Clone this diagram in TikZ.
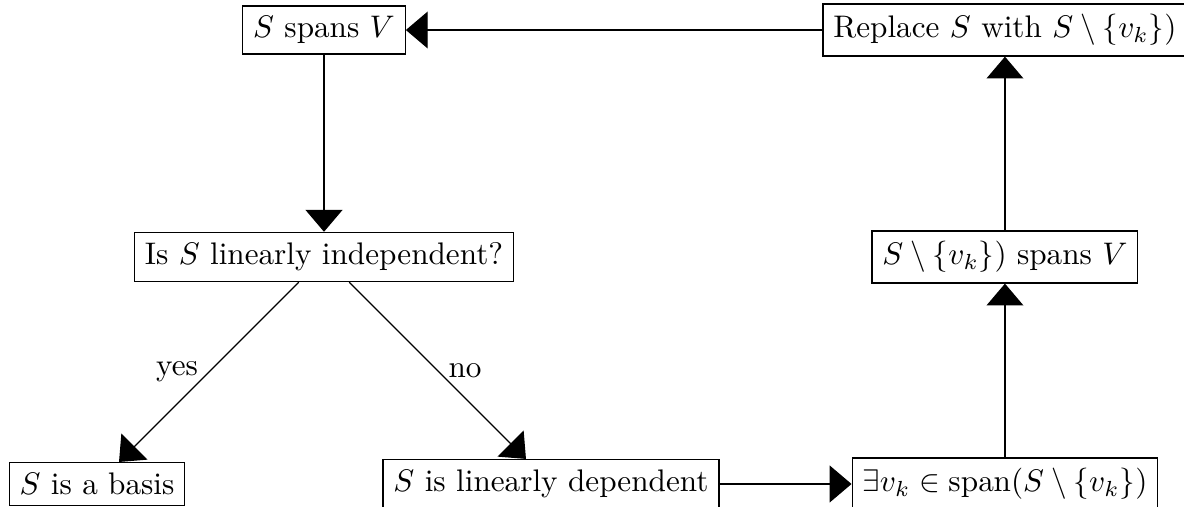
\documentclass[tikz,border=0pt]{standalone}
\usepackage{color}
\usepackage{amsmath}
\usepackage{amsfonts}
\usepackage{tikz}
\usetikzlibrary{arrows.meta}
\newcommand{\stp}[0] {2.557}

\begin{document}
\begin{tikzpicture}
        \useasboundingbox (-3.650, 0.338) rectangle (9.688, -5.373);
        \node[shape=rectangle,draw=black] (s) at (0, 0)     {$S$ spans $V$};
        \node[shape=rectangle,draw=black] (r) at (\stp*3, 0)     {Replace $S$ with $S\setminus\{v_k\})$};
        \node[shape=rectangle,draw=black] (i) at (0, -\stp)     {Is $S$ linearly independent?};
        \node[shape=rectangle,draw=black] (v) at (\stp*3, -\stp)     {$S\setminus\{v_k\})$ spans $V$};
        \node[shape=rectangle,draw=black] (b) at (-\stp, -\stp*2)     {$S$ is a basis};
        \node[shape=rectangle,draw=black] (d) at (\stp, -\stp*2)     {$S$ is linearly dependent};
        \node[shape=rectangle,draw=black] (e) at (\stp*3, -\stp*2)     {$\exists v_k\in\operatorname{span}(S\setminus\{v_k\})$};

        %the loop back to the top
        \path[-{Triangle[length=7pt,width=11.8pt]}] (r) edge (s);
        \path[-{Triangle[length=7pt,width=11.8pt]}] (s) edge (i);

        \path[-{Triangle[length=7pt,width=11.8pt]}] (i) edge node[midway,left] {yes} (b);
        \path[-{Triangle[length=7pt,width=11.8pt]}] (i) edge node[midway,right] {no} (d);

        \path[-{Triangle[length=7pt,width=11.8pt]}] (d) edge (e);
        \path[-{Triangle[length=7pt,width=11.8pt]}] (e) edge (v);
        \path[-{Triangle[length=7pt,width=11.8pt]}] (v) edge (r);
\end{tikzpicture}
\end{document}
